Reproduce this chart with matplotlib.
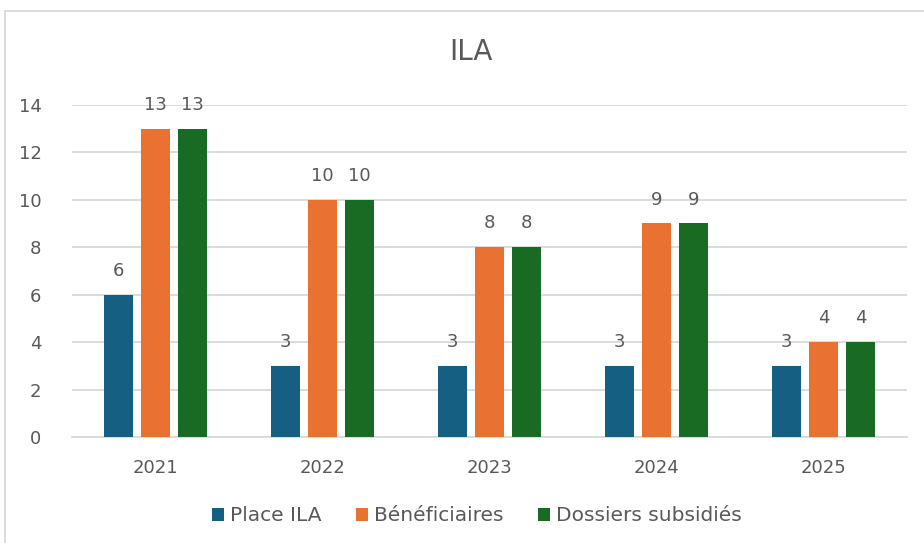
import matplotlib.pyplot as plt
import numpy as np
from matplotlib.patches import Rectangle

years = ["2021", "2022", "2023", "2024", "2025"]
place_ila = [6, 3, 3, 3, 3]
beneficiaires = [13, 10, 8, 9, 4]
dossiers = [13, 10, 8, 9, 4]

series = [("Place ILA", place_ila, "#156082"),
          ("Bénéficiaires", beneficiaires, "#E97132"),
          ("Dossiers subsidiés", dossiers, "#196B24")]

txt = "#595959"
plt.rcParams['font.family'] = ['DejaVu Sans']

fig = plt.figure(figsize=(9.24, 5.43), dpi=100)
ax = fig.add_axes([0.078, 0.195, 0.904, 0.612])

x = np.arange(len(years))
w = 0.174
step = 0.222
for i, (name, vals, col) in enumerate(series):
    pos = x + (i - 1) * step
    ax.bar(pos, vals, w, color=col, label=name, zorder=3)
    for p, v in zip(pos, vals):
        ax.text(p, v + 1.0, str(v), ha="center", va="center", fontsize=13, color=txt)

ax.set_xlim(-0.5, len(years) - 0.5)
ax.set_ylim(0, 14)
ax.set_yticks(range(0, 15, 2))
ax.set_xticks(x)
ax.set_xticklabels(years)
ax.grid(axis="y", color="#D9D9D9", linewidth=1.3, zorder=0)
for s in ["top", "right", "left"]:
    ax.spines[s].set_visible(False)
ax.spines["bottom"].set_color("#D9D9D9")
ax.spines["bottom"].set_linewidth(1.3)
ax.tick_params(axis="both", length=0, labelsize=13, labelcolor=txt)
ax.tick_params(axis="x", pad=16)
ax.tick_params(axis="y", pad=22)

fig.text(0.51, 0.905, "ILA", ha="center", va="center", fontsize=20, color=txt)

fig.legend(loc="center", bbox_to_anchor=(0.516, 0.05), ncol=3, frameon=False,
           fontsize=14.5, handlelength=0.6, handleheight=0.6, handletextpad=0.3,
           columnspacing=1.7, labelcolor=txt)

fig.add_artist(Rectangle((5 / 924, -0.1), 1.1, 1 - 11 / 543 + 0.1, transform=fig.transFigure,
                         fill=False, edgecolor="#D9D9D9", linewidth=1.3))

fig.savefig("out.png", dpi=100)
